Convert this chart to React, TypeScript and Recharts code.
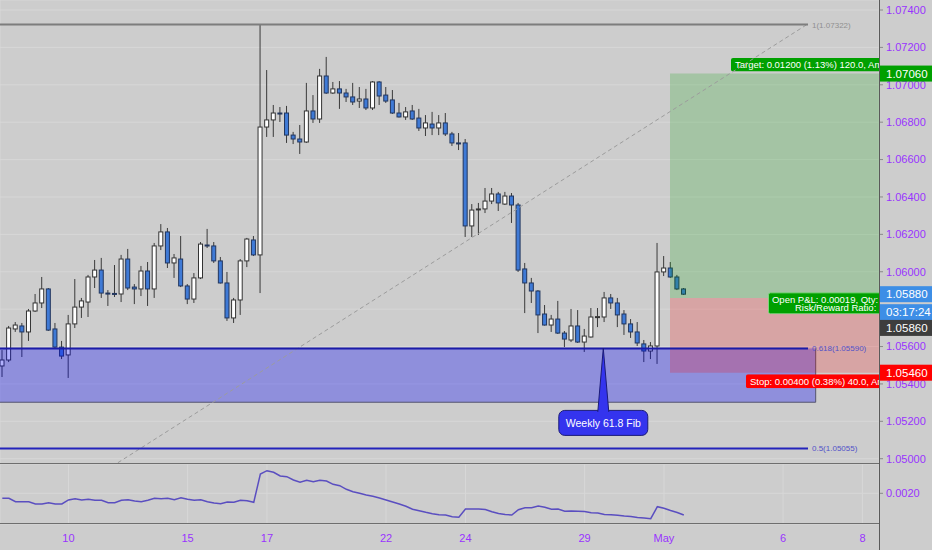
import React from 'react';
import {
  ComposedChart,
  Bar,
  Line,
  XAxis,
  YAxis,
  CartesianGrid,
  ReferenceLine,
  ReferenceArea,
  ReferenceDot,
} from 'recharts';

// ---------- data ----------
const opens = [
  1.05496, 1.05528, 1.05694, 1.0571, 1.05678, 1.0579, 1.05833, 1.05908, 1.05694, 1.05597,
  1.05555, 1.05721, 1.05811, 1.05838, 1.05972, 1.06009, 1.05886, 1.05884, 1.05881, 1.06068,
  1.05918, 1.05908, 1.06004, 1.05908, 1.06138, 1.06213, 1.06047, 1.06068, 1.05924, 1.05854,
  1.05967, 1.06143, 1.06138, 1.06058, 1.0594, 1.05753, 1.05849, 1.06058, 1.0617, 1.0609,
  1.06774, 1.06812, 1.06849, 1.06849, 1.06731, 1.0671, 1.06694, 1.0686, 1.06817, 1.07047,
  1.06956, 1.06978, 1.06956, 1.06935, 1.06913, 1.06924, 1.06876, 1.07015, 1.06945, 1.06919,
  1.06849, 1.06828, 1.0686, 1.06822, 1.06769, 1.0679, 1.06769, 1.06796, 1.06737, 1.06689,
  1.06689, 1.06245, 1.06333, 1.06336, 1.06378, 1.06416, 1.06362, 1.06405, 1.06357, 1.06015,
  1.0594, 1.05897, 1.05774, 1.05715, 1.05747, 1.05672, 1.05635, 1.0571, 1.05624, 1.05651,
  1.05758, 1.05758, 1.0586, 1.05833, 1.05774, 1.05721, 1.05678, 1.05614, 1.05576, 1.05603,
  1.05999, 1.0602, 1.05972, 1.05908,
];
const highs = [
  1.05581, 1.0571, 1.05731, 1.05726, 1.05801, 1.05881, 1.05972, 1.05913, 1.05726, 1.0563,
  1.05769, 1.05961, 1.0586, 1.05983, 1.06063, 1.06074, 1.05902, 1.06036, 1.0609, 1.06122,
  1.05934, 1.06031, 1.06052, 1.06154, 1.06255, 1.06234, 1.06095, 1.06191, 1.05934, 1.05993,
  1.06159, 1.06229, 1.06159, 1.06079, 1.05999, 1.0586, 1.06068, 1.06181, 1.06191, 1.07322,
  1.07079, 1.06892, 1.06881, 1.06887, 1.06748, 1.06785, 1.0701, 1.06945, 1.07085, 1.07149,
  1.07015, 1.0702, 1.06978, 1.0701, 1.06988, 1.06978, 1.0702, 1.0702, 1.06988, 1.06972,
  1.06903, 1.06881, 1.06892, 1.06871, 1.06838, 1.06855, 1.06838, 1.06849, 1.06748, 1.06742,
  1.0671, 1.06362, 1.06368, 1.06448, 1.06448, 1.06427, 1.06427, 1.06421, 1.06368, 1.06047,
  1.05967, 1.05902, 1.05822, 1.05769, 1.05844, 1.05683, 1.05801, 1.05795, 1.05694, 1.05806,
  1.05806, 1.05892, 1.05881, 1.0586, 1.05795, 1.05747, 1.05731, 1.05635, 1.05624, 1.06154,
  1.06084, 1.06052, 1.05983, 1.05913,
];
const lows = [
  1.05437, 1.05517, 1.05678, 1.05544, 1.0563, 1.05785, 1.05806, 1.05683, 1.05592, 1.05533,
  1.05432, 1.05699, 1.05753, 1.05758, 1.05913, 1.0586, 1.05817, 1.05865, 1.05838, 1.05902,
  1.05827, 1.0587, 1.05817, 1.0586, 1.06116, 1.0602, 1.05967, 1.05918, 1.05827, 1.05833,
  1.05961, 1.06127, 1.06047, 1.05937, 1.05737, 1.05726, 1.05769, 1.06025, 1.06084, 1.05886,
  1.06721, 1.06721, 1.06801, 1.06689, 1.06683, 1.0663, 1.06689, 1.06796, 1.06796, 1.06951,
  1.06951, 1.06871, 1.06908, 1.06892, 1.06876, 1.06865, 1.06865, 1.06892, 1.06903, 1.06844,
  1.06825, 1.06812, 1.06812, 1.06753, 1.06726, 1.06731, 1.06731, 1.06726, 1.06673, 1.06651,
  1.06186, 1.06186, 1.06197, 1.06314, 1.06362, 1.06325, 1.06357, 1.06261, 1.05999, 1.05779,
  1.05833, 1.05672, 1.05712, 1.05678, 1.05667, 1.05597, 1.05624, 1.05619, 1.05571, 1.05648,
  1.05704, 1.05731, 1.05801, 1.05704, 1.05662, 1.05646, 1.05603, 1.05517, 1.05533, 1.05507,
  1.05977, 1.05967, 1.05902, 1.05876,
];
const closes = [
  1.05528, 1.05699, 1.05715, 1.05678, 1.0579, 1.05833, 1.05908, 1.05688, 1.05597, 1.05549,
  1.05721, 1.05811, 1.05844, 1.05972, 1.06009, 1.05886, 1.05881, 1.05881, 1.06068, 1.05913,
  1.05908, 1.06004, 1.05908, 1.06138, 1.06213, 1.06047, 1.06074, 1.05924, 1.05854, 1.05967,
  1.06148, 1.06138, 1.06058, 1.0594, 1.05753, 1.05849, 1.06058, 1.06175, 1.0609, 1.06774,
  1.06812, 1.06849, 1.06846, 1.06731, 1.0671, 1.06694, 1.0686, 1.06817, 1.07047, 1.06956,
  1.06978, 1.06956, 1.06935, 1.06908, 1.06924, 1.06876, 1.07015, 1.0694, 1.06913, 1.06849,
  1.06828, 1.06855, 1.06817, 1.06769, 1.06796, 1.06769, 1.06796, 1.06737, 1.06689, 1.06686,
  1.06245, 1.0633, 1.06336, 1.06378, 1.06416, 1.06368, 1.06405, 1.06357, 1.06009, 1.0594,
  1.05897, 1.05769, 1.05715, 1.05747, 1.05672, 1.0564, 1.0571, 1.05624, 1.05656, 1.05758,
  1.0576, 1.0586, 1.05833, 1.05769, 1.05721, 1.05678, 1.05619, 1.05576, 1.05603, 1.05999,
  1.0602, 1.05972, 1.05908, 1.0588,
];
const atrValues = [
  0.001875, 0.001875, 0.00179, 0.00179, 0.00179, 0.001733, 0.001733, 0.001765, 0.001733, 0.001733,
  0.001833, 0.001865, 0.001833, 0.00185, 0.001825, 0.001825, 0.001765, 0.001765, 0.001825, 0.00184,
  0.001808, 0.00179, 0.001825, 0.001875, 0.001865, 0.001875, 0.00184, 0.00189, 0.00185, 0.001825,
  0.00184, 0.00179, 0.001758, 0.00174, 0.001783, 0.001775, 0.001825, 0.001815, 0.001775, 0.002483,
  0.002565, 0.002525, 0.002433, 0.002415, 0.002333, 0.002275, 0.002325, 0.00229, 0.002325, 0.002308,
  0.002225, 0.00219, 0.0021, 0.00204, 0.002, 0.001958, 0.001925, 0.001883, 0.001833, 0.001783,
  0.001733, 0.001675, 0.0016, 0.001565, 0.001525, 0.00149, 0.001465, 0.001458, 0.001415, 0.0014,
  0.001608, 0.001608, 0.001608, 0.001595, 0.001538, 0.001495, 0.00147, 0.001458, 0.00159, 0.00164,
  0.00164, 0.001683, 0.00165, 0.0016, 0.001608, 0.00155, 0.001558, 0.001553, 0.001545, 0.001515,
  0.001508, 0.00147, 0.001465, 0.00145, 0.001433, 0.00142, 0.001395, 0.001383, 0.001365, 0.001665,
  0.001625, 0.00157, 0.00152, 0.001458,
];

const timeTickIndex = [10, 28, 40, 58, 70, 88, 100, 118, 130];
const timeTickLabels = ['10', '15', '17', '22', '24', '29', 'May', '6', '8'];
const priceTicks = [1.05, 1.052, 1.054, 1.056, 1.058, 1.06, 1.062, 1.064, 1.066, 1.068, 1.07, 1.072, 1.074];
const atrTicks = [0.002];

// drawings (data coordinates: bar index, price)
const fibOne = 1.07322;
const fib618 = 1.0559;
const fibHalf = 1.05055;
const fibEndIndex = 121.77;
const trendStart = { x: 13.0, y: 1.04878 };
const trendEnd = { x: 121.6, y: 1.07322 };
const zoneBottom = 1.05302;
const zoneEndIndex = 122.93;
const positionStartIndex = 100.91;
const entryPrice = 1.0586;
const targetPrice = 1.0706;
const stopPrice = 1.0546;
const lastPrice = 1.0588;
const calloutIndex = 90.83;

// axis domains
const X_MIN = -0.35;
const X_MAX = 132.5;
const PRICE_MIN = 1.049717;
const PRICE_MAX = 1.074535;
const ATR_MIN = 0.0012325;
const ATR_MAX = 0.0027325;

const candles = opens.map((open, i) => ({
  i,
  open,
  high: highs[i],
  low: lows[i],
  close: closes[i],
  range: [lows[i], highs[i]],
  atr: atrValues[i],
}));

// ---------- styles ----------
const BG = '#cdcdcd';
const GRID = '#d7d7d7';
const AXIS_TEXT = '#9933ff';
const FONT = '"Liberation Sans", Arial, sans-serif';

const Candle = (props: any) => {
  const { x, y, width, height, payload } = props;
  if (!payload || x == null) return null;
  const { open, close, high, low } = payload;
  const top = Math.min(y, y + height);
  const h = Math.abs(height);
  const cx = x + width / 2;
  const py = (p: number) => top + ((high - p) / (high - low)) * h;
  const up = close >= open;
  const bTop = py(Math.max(open, close));
  const bBot = py(Math.min(open, close));
  return (
    <g>
      <line x1={cx} x2={cx} y1={top} y2={top + h} stroke="#3a3a3a" strokeWidth={1} />
      <rect
        x={cx - 2}
        y={bTop}
        width={4}
        height={Math.max(bBot - bTop, 1)}
        fill={up ? '#ffffff' : '#3f7ad6'}
        stroke={up ? '#333333' : '#22365e'}
        strokeWidth={1}
      />
    </g>
  );
};

const ZoneShape = (p: any) => {
  const { x, y, width, height } = p;
  if (x == null) return null;
  return (
    <g>
      <rect x={x} y={y} width={width} height={height} fill="#0000ff" fillOpacity={0.3} />
      <path d={`M${x},${y + height} H${x + width} V${y}`} fill="none" stroke="#55556e" strokeWidth={1} />
    </g>
  );
};

const FibText = (color: string, text: string) => (p: any) => {
  if (p.cx == null) return null;
  return (
    <text x={p.cx + 4} y={p.cy + 3} fill={color} fontSize={8} fontFamily={FONT}>
      {text}
    </text>
  );
};

const Callout = (p: any) => {
  const { cx, cy } = p;
  if (cx == null) return null;
  const boxTop = cy + 62;
  const w = 89;
  const h = 25;
  return (
    <g>
      <rect x={cx - w / 2} y={boxTop} width={w} height={h} rx={6} fill="#3434ee" stroke="#1b1b78" strokeWidth={1} />
      <path
        d={`M${cx - 5.5},${boxTop + 1.5} L${cx},${cy} L${cx + 5.5},${boxTop + 1.5}`}
        fill="#3434ee"
        stroke="#1b1b78"
        strokeWidth={1}
      />
      <text x={cx} y={boxTop + h / 2 + 4} textAnchor="middle" fill="#ffffff" fontSize={10.5} fontFamily={FONT}>
        Weekly 61.8 Fib
      </text>
    </g>
  );
};

const TargetTag = (props: any) => {
  const vb = props.viewBox;
  if (!vb) return null;
  const right = vb.x + vb.width;
  const bx = vb.x + 61;
  const by = vb.y - 15.5;
  const h = 13.5;
  return (
    <svg x={bx} y={by} width={Math.max(right - bx, 0)} height={h}>
      <rect x={0} y={0} width={300} height={h} rx={2} fill="#00a000" />
      <text x={4} y={h / 2 + 3.4} fill="#ffffff" fontSize={9.5} fontFamily={FONT}>
        Target: 0.01200 (1.13%) 120.0, Amount: 1200.00
      </text>
    </svg>
  );
};

const StopTags = (props: any) => {
  const vb = props.viewBox;
  if (!vb) return null;
  const right = vb.x + vb.width;
  const top = vb.y;
  const bottom = vb.y + vb.height;
  const sx = vb.x + 76;
  const sy = bottom + 1.6;
  const sh = 14;
  const px = vb.x + 98;
  const py = top - 5.6;
  const ph = 22;
  return (
    <g>
      <svg x={sx} y={sy} width={Math.max(right - sx, 0)} height={sh}>
        <rect x={0} y={0} width={300} height={sh} rx={2} fill="#ff0000" />
        <text x={4} y={sh / 2 + 3.4} fill="#ffffff" fontSize={9.5} fontFamily={FONT}>
          Stop: 0.00400 (0.38%) 40.0, Amount: 400.00
        </text>
      </svg>
      <svg x={px} y={py} width={Math.max(right - px, 0)} height={ph}>
        <rect x={0.5} y={0.5} width={300} height={ph - 1} rx={2} fill="#00a000" stroke="#7fd67f" strokeWidth={1} />
        <text x={4} y={10.4} fill="#ffffff" fontSize={9.5} fontFamily={FONT}>
          {'Open P&L: 0.00019, Qty: 100000'}
        </text>
        <text x={27} y={18.6} fill="#ffffff" fontSize={9.5} fontFamily={FONT}>
          {'Risk/Reward Ratio: 3'}
        </text>
      </svg>
    </g>
  );
};

const AxisBadge = (props: any) => {
  const { viewBox, text, bg, dy = 0 } = props;
  if (!viewBox) return null;
  const x = viewBox.x + viewBox.width + 1;
  const cy = viewBox.y + dy;
  return (
    <g>
      <rect x={x} y={cy - 8} width={53} height={16} fill={bg} />
      <text x={x + 6} y={cy + 4} fill="#ffffff" fontSize={11.5} fontFamily={FONT}>
        {text}
      </text>
    </g>
  );
};

const line = (style: React.CSSProperties) => (
  <div style={{ position: 'absolute', background: '#6e6e6e', ...style }} />
);

const hiddenX = (
  <XAxis
    dataKey="i"
    type="number"
    domain={[X_MIN, X_MAX]}
    allowDataOverflow
    ticks={timeTickIndex}
    interval={0}
    height={0}
    tick={false}
    axisLine={false}
    tickLine={false}
  />
);

export default function App() {
  return (
    <div
      style={{
        position: 'absolute',
        left: 0,
        top: 0,
        width: 932,
        height: 550,
        background: BG,
        fontFamily: FONT,
        overflow: 'hidden',
      }}
    >
      {/* price pane: candles, grid, price scale */}
      <div style={{ position: 'absolute', left: 0, top: 0 }}>
        <ComposedChart width={932} height={464} data={candles} margin={{ top: 0, right: 0, bottom: 0, left: 0 }}>
          <CartesianGrid stroke={GRID} strokeWidth={1} />
          {hiddenX}
          <YAxis
            orientation="right"
            width={53}
            type="number"
            domain={[PRICE_MIN, PRICE_MAX]}
            allowDataOverflow
            ticks={priceTicks}
            interval={0}
            tickFormatter={(v: number) => v.toFixed(5)}
            tick={{ fill: AXIS_TEXT, fontSize: 11 }}
            axisLine={false}
            tickLine={{ stroke: '#8a8a8a' }}
            tickSize={4}
            tickMargin={3}
          />
          <Bar dataKey="range" barSize={4} shape={<Candle />} isAnimationActive={false} />
        </ComposedChart>
      </div>

      {/* drawings layer over the price pane (same scales) */}
      <div style={{ position: 'absolute', left: 0, top: 0 }}>
        <ComposedChart width={932} height={464} data={candles} margin={{ top: 0, right: 0, bottom: 0, left: 0 }}>
          {hiddenX}
          <YAxis
            orientation="right"
            width={53}
            type="number"
            domain={[PRICE_MIN, PRICE_MAX]}
            allowDataOverflow
            ticks={priceTicks}
            tick={false}
            axisLine={false}
            tickLine={false}
          />
          <Line dataKey="close" stroke="none" dot={false} activeDot={false} isAnimationActive={false} />

          <ReferenceArea x1={X_MIN} x2={zoneEndIndex} y1={zoneBottom} y2={fib618} shape={<ZoneShape />} />
          <ReferenceArea
            x1={positionStartIndex}
            x2={X_MAX}
            y1={entryPrice}
            y2={targetPrice}
            fill="#00a000"
            fillOpacity={0.2}
            stroke="none"
            label={<TargetTag />}
          />
          <ReferenceArea
            x1={positionStartIndex}
            x2={X_MAX}
            y1={stopPrice}
            y2={entryPrice}
            fill="#ff0000"
            fillOpacity={0.2}
            stroke="none"
            label={<StopTags />}
          />

          <ReferenceLine
            segment={[trendStart, trendEnd]}
            stroke="#9c9c9c"
            strokeWidth={1}
            strokeDasharray="4 3"
            ifOverflow="hidden"
          />
          <ReferenceLine segment={[{ x: X_MIN, y: fibOne }, { x: fibEndIndex, y: fibOne }]} stroke="#7d7d7d" strokeWidth={2} />
          <ReferenceLine segment={[{ x: X_MIN, y: fib618 }, { x: fibEndIndex, y: fib618 }]} stroke="#1b1ba8" strokeWidth={2} />
          <ReferenceLine segment={[{ x: X_MIN, y: fibHalf }, { x: fibEndIndex, y: fibHalf }]} stroke="#2424bb" strokeWidth={2} />
          <ReferenceDot x={fibEndIndex} y={fibOne} r={0} shape={FibText('#909090', `1(${fibOne.toFixed(5)})`)} />
          <ReferenceDot x={fibEndIndex} y={fib618} r={0} shape={FibText('#5252c8', `0.618(${fib618.toFixed(5)})`)} />
          <ReferenceDot x={fibEndIndex} y={fibHalf} r={0} shape={FibText('#5252c8', `0.5(${fibHalf.toFixed(5)})`)} />
          <ReferenceDot x={calloutIndex} y={fib618} r={0} shape={Callout} />

          <ReferenceLine y={targetPrice} stroke="none" label={<AxisBadge text={targetPrice.toFixed(5)} bg="#00a000" />} />
          <ReferenceLine y={lastPrice} stroke="none" label={<AxisBadge text={lastPrice.toFixed(5)} bg="#3d8ee6" />} />
          <ReferenceLine y={lastPrice} stroke="none" label={<AxisBadge text="03:17:24" bg="#3d8ee6" dy={18} />} />
          <ReferenceLine y={entryPrice} stroke="none" label={<AxisBadge text={entryPrice.toFixed(5)} bg="#3d3d3d" dy={30} />} />
          <ReferenceLine y={stopPrice} stroke="none" label={<AxisBadge text={stopPrice.toFixed(5)} bg="#ff0000" />} />
        </ComposedChart>
      </div>

      {/* indicator pane with time scale */}
      <div style={{ position: 'absolute', left: 0, top: 464 }}>
        <ComposedChart width={932} height={86} data={candles} margin={{ top: 0, right: 0, bottom: 0, left: 0 }}>
          <CartesianGrid stroke={GRID} strokeWidth={1} />
          <XAxis
            dataKey="i"
            type="number"
            domain={[X_MIN, X_MAX]}
            allowDataOverflow
            ticks={timeTickIndex}
            interval={0}
            tickFormatter={(v: number) => timeTickLabels[timeTickIndex.indexOf(v)] ?? ''}
            height={26}
            axisLine={false}
            tickLine={false}
            tickSize={6}
            tickMargin={4}
            tick={{ fill: AXIS_TEXT, fontSize: 11 }}
          />
          <YAxis
            orientation="right"
            width={53}
            type="number"
            domain={[ATR_MIN, ATR_MAX]}
            allowDataOverflow
            ticks={atrTicks}
            interval={0}
            tickFormatter={(v: number) => v.toFixed(4)}
            tick={{ fill: AXIS_TEXT, fontSize: 11 }}
            axisLine={false}
            tickLine={{ stroke: '#8a8a8a' }}
            tickSize={4}
            tickMargin={3}
          />
          <Line dataKey="atr" type="linear" stroke="#5a4ec0" strokeWidth={1.5} dot={false} isAnimationActive={false} />
        </ComposedChart>
      </div>

      {line({ left: 0, top: 463, width: 880, height: 1 })}
      {line({ left: 0, top: 523, width: 880, height: 1 })}
      {line({ left: 879, top: 0, width: 1, height: 550, background: '#5a5a5a' })}
    </div>
  );
}
